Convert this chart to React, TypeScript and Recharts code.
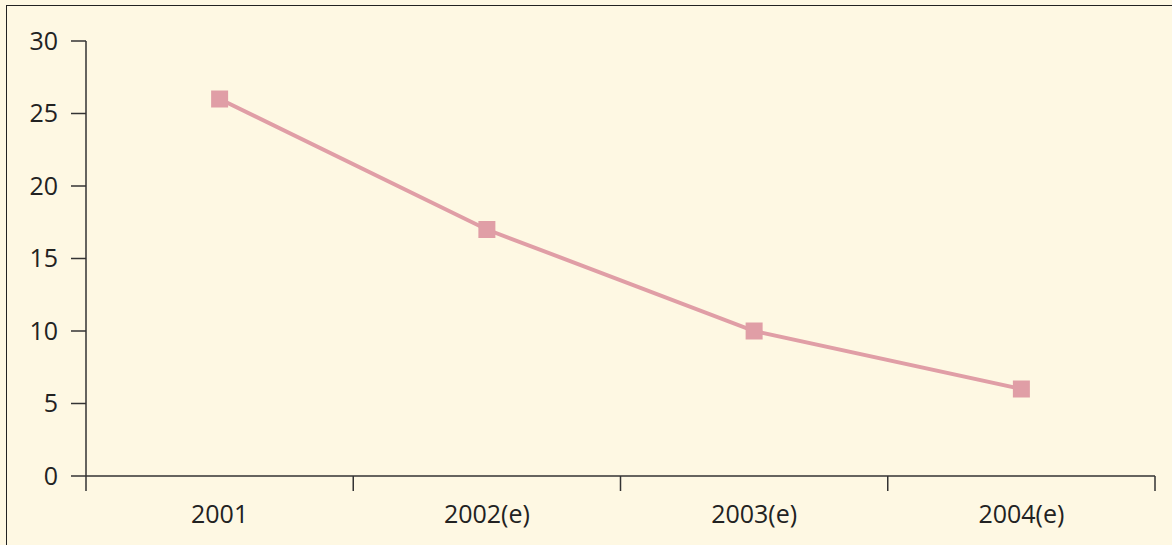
import React from "react";
import { LineChart, Line, XAxis, YAxis } from "recharts";

const categories = ["2001", "2002(e)", "2003(e)", "2004(e)"];
const values = [26, 17, 10, 6];
const yTicks = [0, 5, 10, 15, 20, 25, 30];
const boundaryTicks = [0, 1, 2, 3, 4];

const data = categories.map((c, i) => ({ name: c, idx: i + 0.5, value: values[i] }));

const LINE = "#e09ea6";
const AXIS = "#333333";
const FONT = "'Open Sans', 'Noto Sans', sans-serif";

const SquareDot = (props: any) => {
  const { cx, cy } = props;
  if (cx == null || cy == null) return null;
  const s = 17;
  return <rect x={cx - s / 2} y={cy - s / 2} width={s} height={s} fill={LINE} />;
};

const EmptyTick = () => <g />;

export default function App() {
  return (
    <div style={{ position: "absolute", left: 0, top: 0, width: 1172, height: 545, background: "#fef8e3" }}>
      <div
        style={{
          position: "absolute",
          left: 6,
          top: 5,
          width: 1172,
          height: 545,
          borderLeft: "1.5px solid #222",
          borderTop: "1.5px solid #222",
          boxSizing: "border-box",
        }}
      />
      <div style={{ position: "absolute", left: 0, top: 0 }}>
        <LineChart width={1172} height={545} data={data} margin={{ top: 41, right: 17, bottom: 0, left: 0 }}>
          <XAxis
            xAxisId="bounds"
            type="number"
            dataKey="idx"
            domain={[0, 4]}
            ticks={boundaryTicks}
            tick={EmptyTick}
            tickSize={15}
            height={1}
            stroke={AXIS}
            axisLine={{ stroke: AXIS, strokeWidth: 1.5 }}
            tickLine={{ stroke: AXIS, strokeWidth: 1.5 }}
            allowDataOverflow
          />
          <XAxis
            xAxisId="cat"
            dataKey="name"
            type="category"
            scale="band"
            axisLine={false}
            tickLine={false}
            tickSize={15}
            tickMargin={13}
            height={68}
            interval={0}
            tick={{ fill: "#222", fontSize: 25, fontFamily: FONT }}
          />
          <YAxis
            domain={[0, 30]}
            ticks={yTicks}
            width={86}
            tickSize={15}
            tickMargin={13}
            stroke={AXIS}
            axisLine={{ stroke: AXIS, strokeWidth: 1.5 }}
            tickLine={{ stroke: AXIS, strokeWidth: 1.5 }}
            tick={{ fill: "#222", fontSize: 25, fontFamily: FONT }}
          />
          <Line
            xAxisId="cat"
            dataKey="value"
            stroke={LINE}
            strokeWidth={4}
            dot={<SquareDot />}
            activeDot={false}
            isAnimationActive={false}
          />
        </LineChart>
      </div>
    </div>
  );
}
